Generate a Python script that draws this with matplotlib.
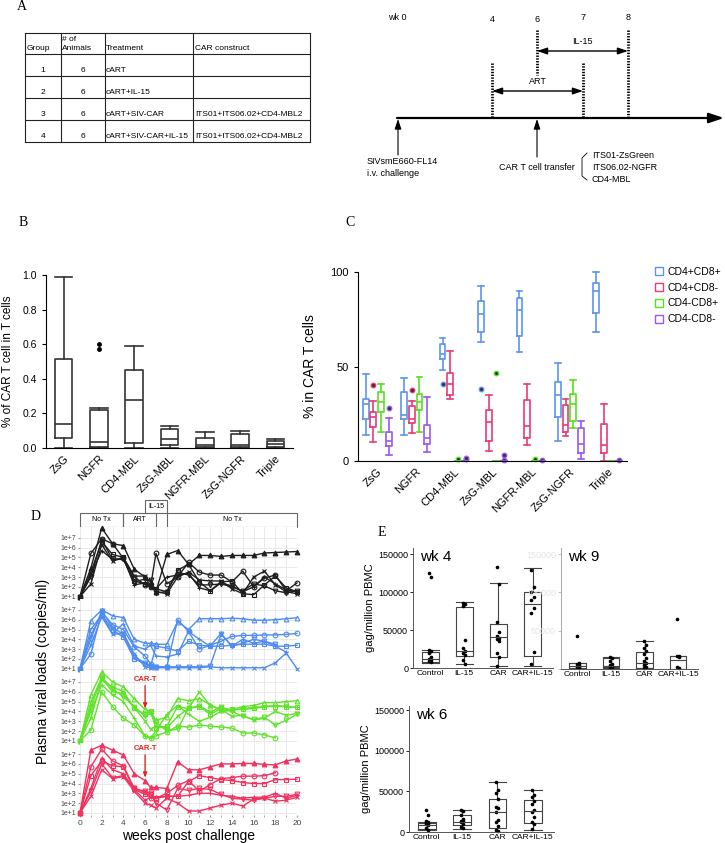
import numpy as np
import matplotlib.pyplot as plt
from matplotlib.patches import Rectangle, Patch
from matplotlib.ticker import NullLocator

plt.rcParams['font.family'] = ['Liberation Sans', 'DejaVu Sans']

W, H = 725, 843

# ---------------- A: study design ----------------
tbl_header = ['Group', '# of\nAnimals', 'Treatment', 'CAR construct']
tbl_group = ['1', '2', '3', '4']
tbl_animals = ['6', '6', '6', '6']
tbl_treatment = ['cART', 'cART+IL-15', 'cART+SIV-CAR', 'cART+SIV-CAR+IL-15']
tbl_construct = ['', '', 'ITS01+ITS06.02+CD4-MBL2', 'ITS01+ITS06.02+CD4-MBL2']
tl_labels = ['wk 0', '4', '6', '7', '8']
car_constructs = ['ITS01-ZsGreen', 'ITS06.02-NGFR', 'CD4-MBL']

# ---------------- B: % CAR T cells in T cells ----------------
car_types = ['ZsG', 'NGFR', 'CD4-MBL', 'ZsG-MBL', 'NGFR-MBL', 'ZsG-NGFR', 'Triple']
b_whislo = [0, 0, 0, 0, 0, 0, 0]
b_q1 = [0.06, 0.005, 0.03, 0.015, 0.005, 0.003, 0.005]
b_med = [0.14, 0.035, 0.28, 0.05, 0.02, 0.015, 0.025]
b_q3 = [0.515, 0.22, 0.45, 0.11, 0.06, 0.08, 0.04]
b_whishi = [0.99, 0.23, 0.59, 0.13, 0.09, 0.10, 0.05]
b_fliers = [[], [0.57, 0.60], [], [], [], [], []]

# ---------------- C: subsets in CAR T cells (lo, q1, med, q3, hi) ----------------
subsets = ['CD4+CD8+', 'CD4+CD8-', 'CD4-CD8+', 'CD4-CD8-']
subset_colors = ['#5b95f0', '#ea3a78', '#55e21f', '#9a58f2']
c_dp = [[14, 22, 30, 33, 46], [14, 22, 24.5, 36.5, 44], [48, 54, 56.5, 62, 65],
        [63, 68.5, 78, 84.5, 92.5], [57.5, 66, 80, 86, 90], [10.7, 23.5, 35, 42, 52],
        [68, 78.5, 90, 94.3, 100]]
c_dp_out = [[], [], [40.5], [38.3], [], [], []]
c_cd4 = [[10, 18, 23.5, 26, 32], [15, 20, 22, 29, 31.5], [33, 35, 41, 46.4, 58.3],
         [5.3, 10.7, 20.5, 27, 34.8], [8.4, 12.3, 18.7, 32.4, 41], [13.4, 15.5, 19, 29.8, 32.8],
         [0, 4.4, 8.4, 19.6, 30]]
c_cd4_out = [[40], [37.5], [], [], [], [], []]
c_cd8 = [[15.5, 26, 31, 36.5, 41], [15.5, 27, 31, 35.7, 44.4], [0, 0, 0, 0, 0],
         [0, 0, 0, 0, 0], [0, 0, 0, 0, 0], [17.6, 21.2, 30.1, 35.7, 42.6], [0, 0, 0, 0, 0]]
c_cd8_out = [[], [], [0.8], [46.4], [1.0], [], []]
c_dn = [[3, 8, 10.5, 15.5, 23], [5, 9, 12.3, 19, 34], [0, 0, 0, 0, 0], [0, 0, 0, 0, 0],
        [0, 0, 0, 0, 0], [0.9, 4.4, 8.9, 17.3, 21.4], [0, 0, 0, 0, 0]]
c_dn_out = [[28], [], [0.8, 1.5], [3.0, 0.5], [0.5], [], [0.5]]

# ---------------- D: plasma viral loads (log10 copies/ml) ----------------
weeks = [0, 1, 2, 3, 4, 5, 6, 6.5, 7, 8, 9, 10, 11, 12, 13, 14, 15, 16, 17, 18, 19, 20]
nan = np.nan
vl_cart = [
    [1.0, 3.9, 8.0, 6.4, 6.2, 3.8, 3.0, 2.5, 1.5, 5.3, 5.7, 4.3, 5.2, 5.2, 5.1, 5.2, 5.2, 5.2, 5.45, 5.5, 5.55, 5.6],
    [1.0, 5.4, 6.9, 6.4, 4.9, 3.0, 2.2, 2.0, 5.4, 2.3, 3.0, 4.5, 3.5, 3.2, 3.2, 2.5, 3.6, 2.0, 2.9, 3.2, 1.6, 2.4],
    [1.0, 3.5, 6.6, 5.3, 5.0, 2.6, 2.3, 2.2, 1.8, 1.5, 3.7, 4.3, 2.5, 1.6, 2.5, 2.6, 1.3, 1.2, 2.2, 3.1, 1.9, 1.5],
    [1.0, 2.3, 6.3, 4.6, 5.0, 3.1, 3.1, 2.0, 1.5, 1.3, 3.0, 3.5, 2.7, 2.6, 2.6, 1.8, 1.3, 3.0, 3.6, 2.2, 1.5, 1.3],
    [1.0, 3.2, 5.7, 4.8, 4.9, 2.2, 2.4, 2.0, 1.8, 3.0, 3.2, 3.4, 1.9, 1.6, 2.4, 2.1, 1.5, 2.0, 3.0, 2.3, 1.7, 1.5],
    [1.0, 3.0, 6.8, 4.8, 4.8, 2.5, 2.8, 2.7, 1.4, 1.5, 3.5, 3.2, 2.2, 2.2, 2.3, 2.0, 1.6, 2.3, 2.1, 1.6, 1.4, 1.6],
]
vl_il15 = [
    [1.0, 5.9, 7.0, 6.4, 6.2, 4.0, 3.6, 3.6, 3.5, 3.5, 5.8, 5.0, 6.1, 6.1, 6.1, 6.15, 6.1, 5.95, 5.95, 6.0, 6.1, 6.2],
    [1.0, 2.5, 6.8, 5.5, 5.0, 3.2, 2.3, 1.5, 1.2, 1.2, 6.0, 4.8, 3.0, 3.4, 3.8, 4.3, 4.4, 4.4, 4.45, 4.45, 4.5, 4.6],
    [1.0, 5.0, 6.5, 5.0, 4.2, 2.0, 1.5, 1.2, 3.3, 3.1, 2.8, 3.8, 3.4, 3.3, 3.3, 3.4, 3.5, 3.5, 3.5, 3.3, 3.3, 3.4],
    [1.0, 3.4, 6.3, 4.5, 4.6, 2.5, 1.2, 1.1, 1.1, 1.1, 1.1, 1.1, 1.1, 1.2, 1.1, 1.1, 1.1, 1.1, 1.1, 1.6, 2.6, 1.0],
    [1.0, 4.4, 6.6, 4.6, 5.6, 3.3, 3.0, 3.4, 2.3, 2.2, 2.5, 4.8, 4.0, 3.3, 4.6, 3.3, 4.0, 3.6, 3.8, 3.3, 2.7, nan],
    [1.0, 4.0, 6.9, 5.2, 4.5, 2.2, 1.6, 1.3, 1.2, 1.2, 1.2, 1.2, 1.2, 1.3, 4.5, 3.3, 3.6, 4.0, 3.8, 3.5, nan, nan],
]
vl_car = [
    [1.0, 5.7, 8.0, 7.0, 6.5, 5.3, 4.2, 4.0, 3.1, 3.4, 5.3, 5.1, 5.3, 4.7, 4.1, 4.2, 4.5, 4.6, 4.9, 4.9, 5.0, 5.1],
    [1.0, 2.1, 6.0, 4.5, 3.3, 2.6, 1.5, 1.3, 1.5, 1.9, 2.5, 2.4, 2.6, 2.5, 2.4, 2.3, 1.8, 1.8, 1.6, 1.3, nan, nan],
    [1.0, 4.4, 7.4, 6.0, 5.8, 4.3, 3.7, 4.0, 2.3, 2.5, 4.5, 4.3, 4.5, 3.7, 4.3, 4.2, 4.2, 4.3, 4.5, 4.5, 4.5, 4.4],
    [1.0, 3.3, 7.2, 6.5, 6.0, 4.4, 3.0, 2.2, 2.5, 2.3, 3.5, 4.3, 6.0, 4.6, 4.2, 3.5, 3.6, 3.1, 3.3, 4.0, 3.6, 3.8],
    [1.0, 4.0, 6.7, 5.7, 5.0, 3.3, 1.5, 1.3, 2.0, 3.7, 4.6, 3.7, 3.0, 3.4, 4.0, 4.1, 4.3, 4.4, 4.5, 4.6, 4.5, 4.4],
    [1.0, 4.9, 7.5, 6.3, 5.5, 4.5, 3.5, 3.8, 2.9, 2.0, 2.2, 4.3, 4.6, 3.9, 4.5, 4.0, 3.5, 3.2, 3.4, 2.6, 3.1, 3.7],
]
vl_car_il15 = [
    [1.0, 7.4, 7.9, 7.4, 6.9, 5.0, 4.3, 3.6, 3.6, 3.5, 6.2, 5.4, 5.4, 5.7, 6.0, 6.0, 6.05, 6.05, 5.95, 5.9, 6.3, 6.5],
    [1.0, 5.7, 7.5, 6.3, 5.8, 3.5, 3.1, 2.5, 2.5, 3.0, 3.8, 4.3, 3.2, 3.9, 4.5, 4.6, 4.75, 4.75, 4.8, 5.1, nan, nan],
    [1.0, 4.8, 6.3, 5.8, 5.7, 3.4, 2.9, 2.9, 2.5, 2.7, 2.7, 4.2, 4.8, 4.6, 4.4, 4.3, 4.1, 4.0, 4.0, 4.4, 4.4, 4.45],
    [1.0, 2.7, 5.4, 4.5, 4.7, 3.2, 2.0, 1.8, 1.5, 2.5, 2.0, 1.2, 1.2, 1.5, 1.8, 2.0, 1.7, 2.4, 2.5, 2.2, 2.3, 2.6],
    [1.0, 3.5, 6.6, 5.4, 5.0, 3.4, 2.3, 2.6, 2.6, 2.7, 2.7, 2.8, 3.0, 3.0, 2.8, 2.7, 2.5, 2.6, 2.6, 3.0, 2.5, 2.8],
    [1.0, 3.2, 6.0, 4.6, 4.8, 3.5, 3.2, 3.0, 2.0, 1.3, 3.5, 3.3, 3.5, 3.4, 2.9, 2.5, 2.4, 2.3, 2.5, 2.7, 2.7, 2.9],
]
vl_colors = ['#1e1e1e', '#4f8cf0', '#5fe22a', '#f0325f']
phase_names = ['No Tx', 'ART', 'No Tx']
phase_span = [(0, 4), (4, 7), (8, 20)]
il15_span = (6, 8)

# ---------------- E: cell-associated gag (lo, q1, med, q3, hi) ----------------
e_groups = ['Control', 'IL-15', 'CAR', 'CAR+IL-15']
wk4_box = [[6000, 7500, 11400, 21400, 24000], [4900, 16200, 22800, 80700, 86400],
           [2600, 14900, 40400, 57500, 111400], [3000, 15800, 83800, 100400, 131200]]
wk4_pts = [[125000, 120000, 24000, 22000, 20000, 15000, 12000, 10000, 9000, 8000],
           [86000, 84000, 82000, 37000, 26000, 23000, 20000, 17000, 10000, 5000],
           [133000, 111000, 60000, 48000, 42000, 40000, 38000, 35000, 20000, 15000, 3000],
           [129000, 107000, 100000, 94000, 89000, 79000, 73000, 21500, 5000]]
wk9_box = [[500, 1500, 4000, 7500, 8000], [1000, 2500, 4000, 15000, 16000],
           [1000, 1700, 8300, 22800, 36000], [0, 500, 11800, 17100, 17500]]
wk9_pts = [[42500, 8000, 6000, 5000, 4000, 3000, 2000, 1000],
           [16000, 15000, 10000, 7000, 5000, 4000, 3000, 1000],
           [36000, 31000, 27000, 23000, 19000, 15000, 11000, 8000, 5000, 3000, 1000],
           [65000, 17000, 16500, 15500, 3000, 1000]]
wk6_box = [[2000, 3300, 8100, 10500, 12500], [3300, 8100, 12100, 20600, 26700],
           [0, 4900, 24300, 40900, 61900], [2000, 10500, 25500, 39700, 51800]]
wk6_pts = [[27000, 21000, 13000, 12000, 11500, 11000, 10000, 8000, 5000, 3000],
           [27000, 26000, 21000, 16000, 14000, 13000, 12000, 10000, 6000, 5000],
           [62000, 52000, 48000, 41000, 31000, 30000, 24000, 15000, 12000, 7000, 3000, 1000],
           [52000, 45000, 43000, 38000, 34000, 27000, 24000, 18000, 12000, 10000, 4000]]


fig = plt.figure(figsize=(W / 100, H / 100), dpi=100)


def px_axes(x0, y0, x1, y1, **kw):
    return fig.add_axes([x0 / W, 1 - y1 / H, (x1 - x0) / W, (y1 - y0) / H], **kw)


def stats_from(rows, fliers=None):
    out = []
    for i, (lo, q1, md, q3, hi) in enumerate(rows):
        out.append(dict(whislo=lo, q1=q1, med=md, q3=q3, whishi=hi,
                        fliers=fliers[i] if fliers else []))
    return out


# overlay in pixel coordinates for the schematic parts
ov = fig.add_axes([0, 0, 1, 1])
ov.set_xlim(0, W)
ov.set_ylim(H, 0)
ov.axis('off')
ov.patch.set_alpha(0)

for letter, x, y in [('A', 22, 7), ('B', 23, 222), ('C', 350, 223), ('D', 36, 516), ('E', 382, 532)]:
    ov.text(x, y, letter, fontsize=10, family='Liberation Serif', va='center', ha='center')

# table
col_x = [25, 61, 105, 193, 310]
row_y = [33, 54, 76, 98, 120, 142]
for x in col_x:
    ov.plot([x, x], [row_y[0], row_y[-1]], color='#222', lw=0.8)
for y in row_y:
    ov.plot([col_x[0], col_x[-1]], [y, y], color='#222', lw=0.8)
ov.text(27, 48, tbl_header[0], fontsize=6, va='center')
ov.text(62, 44, tbl_header[1], fontsize=6, va='center', linespacing=1.3)
ov.text(106, 48, tbl_header[2], fontsize=6, va='center')
ov.text(195, 48, tbl_header[3], fontsize=6, va='center')
for i in range(4):
    y = row_y[i + 1] + 16
    ov.text(43, y, tbl_group[i], fontsize=6, va='center', ha='center')
    ov.text(83, y, tbl_animals[i], fontsize=6, va='center', ha='center')
    ov.text(106, y, tbl_treatment[i], fontsize=6, va='center')
    ov.text(195, y, tbl_construct[i], fontsize=6, va='center')

# timeline
ov.annotate('', xy=(724, 118), xytext=(397, 118),
            arrowprops=dict(arrowstyle='-|>,head_length=0.9,head_width=0.3', lw=1.6, color='k',
                            shrinkA=0, shrinkB=0))
for lab, x, y in zip(tl_labels, [397, 492, 537, 583, 628], [18, 19, 20, 17, 18]):
    ov.text(x, y, lab, fontsize=6.5, ha='center', va='center')
for x, y0, y1 in [(492, 63, 118), (537, 30, 75), (583, 63, 118), (628, 30, 118)]:
    ov.plot([x, x], [y0, y1], color='k', lw=2.0, ls=(0, (0.5, 0.5)))
for (x0, x1, y, lab) in [(537, 628, 51, 'IL-15'), (492, 583, 91, 'ART')]:
    ov.annotate('', xy=(x1, y), xytext=(x0, y),
                arrowprops=dict(arrowstyle='<|-|>,head_length=0.6,head_width=0.2', lw=1.0,
                                color='k', shrinkA=0, shrinkB=0))
    ov.text((x0 + x1) / 2, y - 9, lab, fontsize=6.5, ha='center', va='center')
for x, y0 in [(398, 155), (537, 157)]:
    ov.annotate('', xy=(x, 119), xytext=(x, y0),
                arrowprops=dict(arrowstyle='-|>,head_length=0.6,head_width=0.2', lw=0.8,
                                color='k', shrinkA=0, shrinkB=0))
ov.text(367, 161, 'SIVsmE660-FL14', fontsize=6.5, va='center')
ov.text(367, 173, 'i.v. challenge', fontsize=6.5, va='center')
ov.text(499, 167, 'CAR T cell transfer', fontsize=6.5, va='center')
ov.plot([587, 582, 582, 587], [153, 158, 176, 180], color='k', lw=0.6)
for i, lab in enumerate(car_constructs):
    ov.text(592, 156 + 12 * i, lab, fontsize=6.5, va='center')

# ---------------- B ----------------
axb = px_axes(46, 275, 293, 448)
axb.bxp(stats_from(list(zip(b_whislo, b_q1, b_med, b_q3, b_whishi)), b_fliers),
        positions=range(1, 8), widths=0.5, capwidths=0.5, manage_ticks=False,
        boxprops=dict(color='#333', lw=1.2), medianprops=dict(color='#333', lw=1.2),
        whiskerprops=dict(color='#333', lw=1.2), capprops=dict(color='#333', lw=1.2),
        flierprops=dict(marker='o', mfc='k', mec='k', ms=2.5))
axb.set_xlim(0.5, 7.5)
axb.set_ylim(0, 1.0)
axb.set_yticks(np.arange(0, 1.01, 0.2))
axb.set_yticklabels(['%.1f' % v for v in np.arange(0, 1.01, 0.2)], fontsize=7.5)
axb.set_xticks(range(1, 8))
axb.set_xticklabels(car_types, rotation=45, ha='right', rotation_mode='anchor', fontsize=8)
axb.tick_params(axis='x', length=0, pad=4)
axb.tick_params(axis='y', length=3, width=0.8)
for s in ['top', 'right']:
    axb.spines[s].set_visible(False)
for s in ['left', 'bottom']:
    axb.spines[s].set_linewidth(0.8)
for a in axb.get_children():
    if hasattr(a, 'set_clip_on'):
        a.set_clip_on(False)
axb.set_ylabel('% of CAR T cell in T cells', fontsize=8.5, labelpad=6)

# ---------------- C ----------------
axc = px_axes(358, 272, 627, 461)
c_all = [(c_dp, c_dp_out), (c_cd4, c_cd4_out), (c_cd8, c_cd8_out), (c_dn, c_dn_out)]
offsets = [-0.3, -0.1, 0.1, 0.3]
for (rows, outs), off, col in zip(c_all, offsets, subset_colors):
    pos = np.arange(1, 8) + off
    axc.bxp(stats_from(rows, outs), positions=pos, widths=0.15, capwidths=0.15, manage_ticks=False,
            boxprops=dict(color=col, lw=1.2), medianprops=dict(color=col, lw=1.2),
            whiskerprops=dict(color=col, lw=1.2), capprops=dict(color=col, lw=1.2),
            flierprops=dict(marker='o', mfc='#333', mec=col, mew=1.0, ms=3.2))
axc.set_xlim(0.5, 7.5)
axc.set_ylim(0, 100)
axc.set_yticks([0, 50, 100])
axc.tick_params(axis='y', labelsize=8, length=3, width=0.8)
axc.set_xticks(range(1, 8))
axc.set_xticklabels(car_types, rotation=45, ha='right', rotation_mode='anchor', fontsize=8)
axc.tick_params(axis='x', length=0, pad=4)
for s in ['top', 'right']:
    axc.spines[s].set_visible(False)
for s in ['left', 'bottom']:
    axc.spines[s].set_linewidth(0.8)
for a in axc.get_children():
    if hasattr(a, 'set_clip_on'):
        a.set_clip_on(False)
axc.set_ylabel('% in CAR T cells', fontsize=10, labelpad=10)
handles = [Patch(facecolor='none', edgecolor=c, lw=1.0) for c in subset_colors]
fig.legend(handles, subsets, loc='upper left', bbox_to_anchor=(655 / W, 1 - 267 / H),
           frameon=False, fontsize=7.5, handlelength=0.8, handleheight=0.8,
           handletextpad=0.4, labelspacing=0.55, borderpad=0, borderaxespad=0)

# ---------------- D ----------------
strip = px_axes(80, 500, 297, 527)
strip.set_xlim(0, 20)
strip.set_ylim(0, 2.1)
strip.axis('off')
for name, (a, b) in zip(phase_names, phase_span):
    strip.add_patch(Rectangle((a, 0), b - a, 1.1, fill=False, ec='#666', lw=0.8, clip_on=False))
    strip.text((a + b) / 2, 0.55, name, fontsize=5, ha='center', va='center')
strip.add_patch(Rectangle((il15_span[0], 1.1), il15_span[1] - il15_span[0], 1.0, fill=False,
                          ec='#666', lw=0.8, clip_on=False))
strip.text(sum(il15_span) / 2, 1.6, 'IL-15', fontsize=5, ha='center', va='center')

markers = ['^', 'o', 's', 'x', '+', 'v']
groups = [vl_cart, vl_il15, vl_car, vl_car_il15]
top = 527
ph = 72.1
for gi, (series, col) in enumerate(zip(groups, vl_colors)):
    ax = px_axes(80, top + gi * ph, 297, top + (gi + 1) * ph)
    ax.set_yscale('log')
    for si, s in enumerate(series):
        mk = markers[si]
        filled = (si == 0 and gi in (0, 3))
        ax.plot(weeks, 10 ** np.array(s), color=col, lw=1.0, marker=mk, ms=3.4,
                mfc=col if filled else 'none', mec=col, mew=0.8, clip_on=False)
    ax.set_xlim(0, 20)
    ax.set_ylim(10 ** 0.75, 10 ** 8.1)
    ax.set_yticks([10 ** k for k in range(1, 8)])
    ax.set_yticklabels(['1e+%d' % k for k in range(1, 8)], fontsize=5, color='#444')
    ax.yaxis.set_minor_locator(NullLocator())
    ax.set_xticks(range(0, 21, 2))
    ax.set_xticks(range(1, 21, 2), minor=True)
    ax.grid(which='both', color='#e6e6e6', lw=0.6)
    ax.set_axisbelow(True)
    ax.tick_params(which='both', length=1.5, color='#999', pad=1.5)
    for s in ax.spines.values():
        s.set_visible(False)
    if gi < 3:
        ax.tick_params(axis='x', which='both', labelbottom=False, length=0)
    else:
        ax.set_xticklabels([str(v) for v in range(0, 21, 2)], fontsize=6, color='#444')
        ax.set_xlabel('weeks post challenge', fontsize=10, labelpad=2)
    if gi == 2:
        ax.annotate('CAR-T', xy=(6, 10 ** 4.3), xytext=(6, 10 ** 6.9), color='#e8231e',
                    fontsize=5.5, fontweight='bold', ha='center', va='bottom',
                    arrowprops=dict(arrowstyle='-|>,head_length=0.5,head_width=0.2',
                                    color='#e8231e', lw=1.0, shrinkA=0, shrinkB=0))
    if gi == 3:
        ax.annotate('CAR-T', xy=(6, 10 ** 4.6), xytext=(6, 10 ** 7.2), color='#e8231e',
                    fontsize=5.5, fontweight='bold', ha='center', va='bottom',
                    arrowprops=dict(arrowstyle='-|>,head_length=0.5,head_width=0.2',
                                    color='#e8231e', lw=1.0, shrinkA=0, shrinkB=0))
fig.text(43 / W, 1 - 671 / H, 'Plasma viral loads (copies/ml)', rotation=90, fontsize=10,
         ha='center', va='center')


# ---------------- E ----------------
def gag_panel(x0, y0, x1, y1, ymax, rows, pts, title, faint=False):
    ax = px_axes(x0, y0, x1, y1)
    ax.bxp(stats_from(rows), positions=range(1, 5), widths=0.5, capwidths=0.5,
           manage_ticks=False, showfliers=False,
           boxprops=dict(color='#444', lw=0.8), medianprops=dict(color='#444', lw=0.8),
           whiskerprops=dict(color='#444', lw=0.8), capprops=dict(color='#444', lw=0.8))
    for i, p in enumerate(pts):
        xo = np.array([0.03 if j % 2 else -0.03 for j in range(len(p))])
        ax.plot(i + 1 + xo, p, 'o', color='k', ms=1.6, clip_on=False)
    ax.set_xlim(0.5, 4.6)
    ax.set_ylim(0, ymax)
    ax.set_yticks([0, 50000, 100000, 150000])
    ax.set_xticks(range(1, 5))
    ax.set_xticklabels(e_groups, fontsize=6)
    ax.tick_params(axis='x', length=0, pad=1.5)
    ax.tick_params(axis='y', labelsize=6.5, length=2, width=0.6, pad=1.5)
    for s in ['top', 'right']:
        ax.spines[s].set_visible(False)
    for s in ['left', 'bottom']:
        ax.spines[s].set_linewidth(0.7)
        ax.spines[s].set_color('#555')
    if faint:
        ax.set_yticklabels(['', '50000', '100000', '150000'])
        ax.tick_params(axis='y', labelcolor='#e4e4e4', color='#bbb')
        ax.spines['left'].set_color('#aaa')
    ax.text(0.05, 0.985, title, transform=ax.transAxes, fontsize=11, va='top')
    return ax


ax4 = gag_panel(413, 548, 553, 668, 158000, wk4_box, wk4_pts, 'wk 4')
ax4.set_ylabel('gag/million PBMC', fontsize=8, labelpad=2)
gag_panel(561, 548, 698, 669, 158000, wk9_box, wk9_pts, 'wk 9', faint=True)
ax6 = gag_panel(409, 706, 554, 832, 155000, wk6_box, wk6_pts, 'wk 6')
ax6.set_ylabel('gag/million PBMC', fontsize=8, labelpad=2)

fig.savefig('out.png', dpi=100)
